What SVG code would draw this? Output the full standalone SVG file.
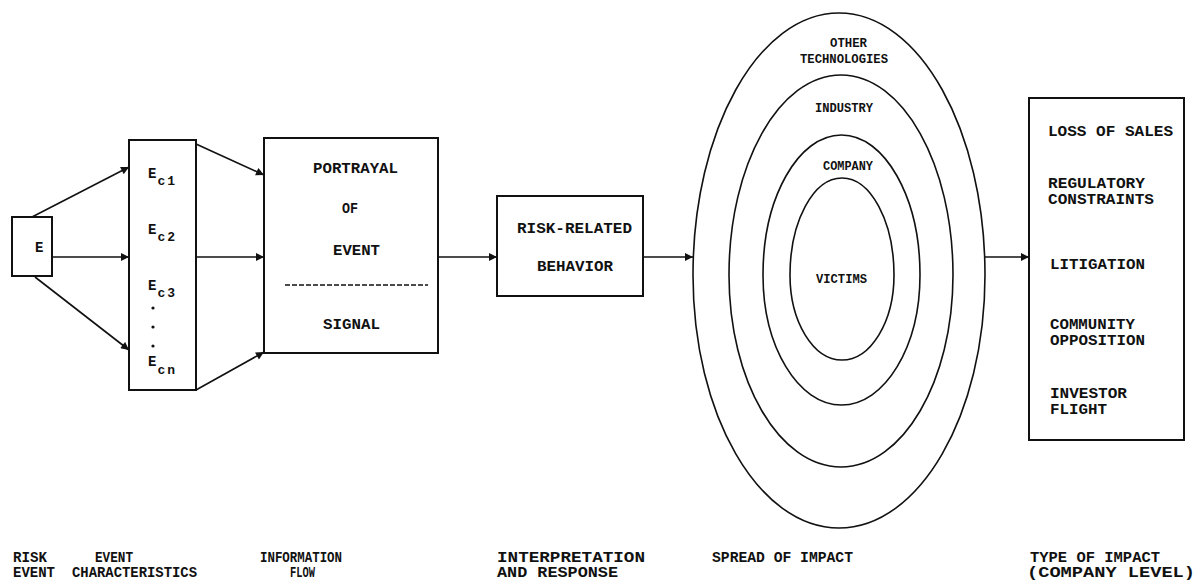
<svg xmlns="http://www.w3.org/2000/svg" width="1196" height="582" viewBox="0 0 1196 582">
<style>
text{font-family:"Liberation Mono","DejaVu Sans Mono",monospace;font-weight:bold;fill:#111;font-size:14px}
.box{fill:#fff;stroke:#111;stroke-width:2}
.ln{stroke:#111;stroke-width:1.6;fill:none}
.egg{fill:none;stroke:#111;stroke-width:1.6}
.sm{font-size:12px}
.sub{font-size:13px}
</style>
<defs>
<marker id="ah" viewBox="0 0 10 10" refX="10" refY="5" markerWidth="9" markerHeight="8" markerUnits="userSpaceOnUse" orient="auto">
<path d="M0,0 L10,5 L0,10 Z" fill="#111"/>
</marker>
</defs>
<rect width="1196" height="582" fill="#fff"/>

<g id="connectors">
<line class="ln" x1="32" y1="217" x2="129" y2="167" marker-end="url(#ah)"/>
<line class="ln" x1="52" y1="257" x2="129" y2="257" marker-end="url(#ah)"/>
<line class="ln" x1="35" y1="277" x2="129" y2="350" marker-end="url(#ah)"/>
<line class="ln" x1="196" y1="144" x2="264" y2="175" marker-end="url(#ah)"/>
<line class="ln" x1="196" y1="257" x2="264" y2="257" marker-end="url(#ah)"/>
<line class="ln" x1="196" y1="390" x2="264" y2="352" marker-end="url(#ah)"/>
<line class="ln" x1="438" y1="257" x2="497" y2="257" marker-end="url(#ah)"/>
<line class="ln" x1="643" y1="257" x2="693" y2="257" marker-end="url(#ah)"/>
<line class="ln" x1="985" y1="257" x2="1029" y2="257" marker-end="url(#ah)"/>
</g>

<g id="risk-event">
<rect class="box" x="12" y="217" width="40" height="59"/>
<text x="35" y="252">E</text>
</g>

<g id="event-characteristics">
<rect class="box" x="129" y="140" width="67" height="250"/>
<text x="148" y="178">E<tspan class="sub" dx="1" dy="7" letter-spacing="2">c1</tspan></text>
<text x="148" y="234">E<tspan class="sub" dx="1" dy="7" letter-spacing="2">c2</tspan></text>
<text x="148" y="290">E<tspan class="sub" dx="1" dy="7" letter-spacing="2">c3</tspan></text>
<circle cx="153" cy="308" r="1.6" fill="#111"/>
<circle cx="153" cy="327" r="1.6" fill="#111"/>
<circle cx="153" cy="346" r="1.6" fill="#111"/>
<text x="148" y="366">E<tspan class="sub" dx="1" dy="8" letter-spacing="2">cn</tspan></text>
</g>

<g id="information-flow">
<rect class="box" x="264" y="138" width="174" height="215"/>
<text x="313" y="173" textLength="85" lengthAdjust="spacingAndGlyphs">PORTRAYAL</text>
<text x="342" y="213" textLength="16" lengthAdjust="spacingAndGlyphs">OF</text>
<text x="333" y="255" textLength="47" lengthAdjust="spacingAndGlyphs">EVENT</text>
<line x1="285" y1="285" x2="428" y2="285" stroke="#111" stroke-width="1.5" stroke-dasharray="5,2"/>
<text x="323" y="329" textLength="57" lengthAdjust="spacingAndGlyphs">SIGNAL</text>
</g>

<g id="risk-related-behavior">
<rect class="box" x="497" y="196" width="146" height="100"/>
<text x="517" y="233" textLength="115" lengthAdjust="spacingAndGlyphs">RISK-RELATED</text>
<text x="537" y="271" textLength="76" lengthAdjust="spacingAndGlyphs">BEHAVIOR</text>
</g>

<g id="spread-of-impact">
<path class="egg" d="M839,13 C919.6,13 985,130.3 985,275 C985,414.7 919.6,528 839,528 C758.4,528 693,414.7 693,275 C693,130.3 758.4,13 839,13Z"/>
<path class="egg" d="M841,75 C902.9,75 953,164.5 953,275 C953,381 902.9,467 841,467 C779.1,467 729,381 729,275 C729,164.5 779.1,75 841,75Z"/>
<path class="egg" d="M841.5,135 C884.9,135 920,197.7 920,275 C920,346.8 884.9,405 841.5,405 C798.1,405 763,346.8 763,275 C763,197.7 798.1,135 841.5,135Z"/>
<path class="egg" d="M842,178 C870.7,178 894,221.4 894,275 C894,321.9 870.7,360 842,360 C813.3,360 790,321.9 790,275 C790,221.4 813.3,178 842,178Z"/>
<text class="sm" x="830" y="47" textLength="37" lengthAdjust="spacingAndGlyphs">OTHER</text>
<text class="sm" x="800" y="63" textLength="88" lengthAdjust="spacingAndGlyphs">TECHNOLOGIES</text>
<text class="sm" x="815" y="112" textLength="58" lengthAdjust="spacingAndGlyphs">INDUSTRY</text>
<text class="sm" x="823" y="170" textLength="50" lengthAdjust="spacingAndGlyphs">COMPANY</text>
<text class="sm" x="816" y="283" textLength="51" lengthAdjust="spacingAndGlyphs">VICTIMS</text>
</g>

<g id="type-of-impact">
<rect class="box" x="1029" y="98" width="155" height="342"/>
<text x="1048" y="136" textLength="125" lengthAdjust="spacingAndGlyphs">LOSS OF SALES</text>
<text x="1048" y="188" textLength="97" lengthAdjust="spacingAndGlyphs">REGULATORY</text>
<text x="1048" y="204" textLength="106" lengthAdjust="spacingAndGlyphs">CONSTRAINTS</text>
<text x="1050" y="269" textLength="95" lengthAdjust="spacingAndGlyphs">LITIGATION</text>
<text x="1050" y="329" textLength="85" lengthAdjust="spacingAndGlyphs">COMMUNITY</text>
<text x="1050" y="345" textLength="95" lengthAdjust="spacingAndGlyphs">OPPOSITION</text>
<text x="1050" y="398" textLength="77" lengthAdjust="spacingAndGlyphs">INVESTOR</text>
<text x="1050" y="414" textLength="57" lengthAdjust="spacingAndGlyphs">FLIGHT</text>
</g>

<g id="stage-labels">
<text x="13" y="562" textLength="34" lengthAdjust="spacingAndGlyphs">RISK</text>
<text x="13" y="577" textLength="42" lengthAdjust="spacingAndGlyphs">EVENT</text>
<text x="95" y="562" textLength="38" lengthAdjust="spacingAndGlyphs">EVENT</text>
<text x="72" y="577" textLength="125" lengthAdjust="spacingAndGlyphs">CHARACTERISTICS</text>
<text x="260" y="562" textLength="82" lengthAdjust="spacingAndGlyphs">INFORMATION</text>
<text x="290" y="577" textLength="25" lengthAdjust="spacingAndGlyphs">FLOW</text>
<text x="497" y="562" textLength="148" lengthAdjust="spacingAndGlyphs">INTERPRETATION</text>
<text x="497" y="577" textLength="121" lengthAdjust="spacingAndGlyphs">AND RESPONSE</text>
<text x="712" y="562" textLength="141" lengthAdjust="spacingAndGlyphs">SPREAD OF IMPACT</text>
<text x="1030" y="562" textLength="130" lengthAdjust="spacingAndGlyphs">TYPE OF IMPACT</text>
<text x="1027" y="577" textLength="168" lengthAdjust="spacingAndGlyphs">(COMPANY LEVEL)</text>
</g>
</svg>
